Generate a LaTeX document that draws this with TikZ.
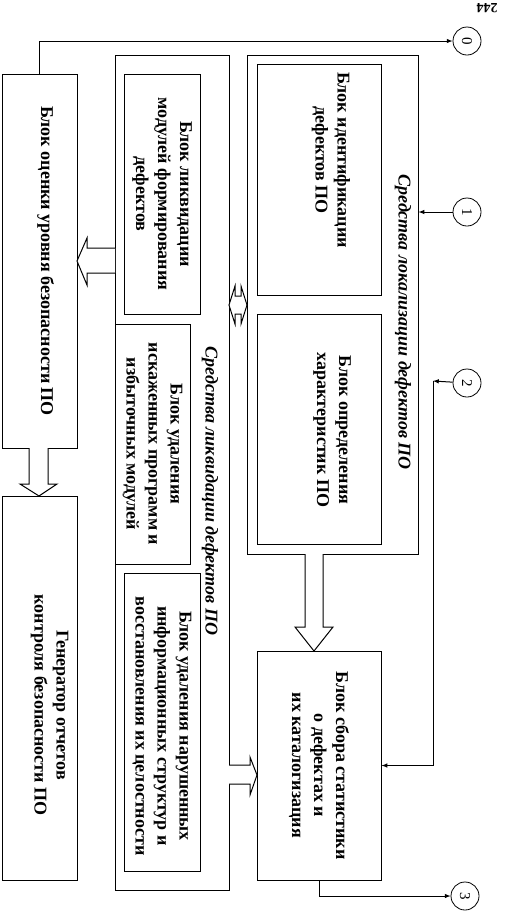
\documentclass[tikz,border=0pt]{standalone}
\usepackage{fontspec}
\setmainfont{Liberation Serif}
\usepackage{tikz}
\usetikzlibrary{calc}

\tikzset{
	box/.style={draw, line width=1pt, fill=white, inner sep=0pt},
	txt/.style={rotate=-90, align=center, font=\fontsize{18}{22}\selectfont\bfseries},
	ttl/.style={rotate=-90, align=center, font=\fontsize{18}{22}\selectfont\bfseries\itshape},
	circ/.style={draw, circle, line width=0.8pt, minimum size=28pt, inner sep=0pt, font=\fontsize{15}{15}\selectfont},
	blk/.style={draw, line width=1pt, fill=white, line join=miter}
}

\begin{document}
\begin{tikzpicture}[x=1pt, y=-1pt, line width=1pt, >=latex]
		\useasboundingbox (0,0) rectangle (529,911);
		
		\node[circ] (0) at (467, 41) {\rotatebox{-90}{0}};
		\node[circ] (1) at (467, 212) {\rotatebox{-90}{1}};
		\node[circ] (2) at (467, 383) {\rotatebox{-90}{2}};
		\node[circ] (3) at (465, 896) {\rotatebox{-90}{3}};
		
		\node[box, minimum width=75, minimum height=374] (4) at (39.5, 261) {};
		\node[box, minimum width=75, minimum height=384] (5) at (39.5, 688) {};
		\node[box, minimum width=114, minimum height=835] (6) at (172, 472.5) {};
		\node[box, minimum width=76, minimum height=240] (7) at (162, 194) {};
		\node[box, minimum width=75, minimum height=240] (8) at (152.5, 444) {};
		\node[box, minimum width=76, minimum height=298] (9) at (162, 722) {};
		\node[box, minimum width=171, minimum height=499] (10) at (332.5, 304.5) {};
		\node[box, minimum width=124, minimum height=231] (11) at (319, 179.5) {};
		\node[box, minimum width=124, minimum height=230] (12) at (319, 429) {};
		\node[box, minimum width=124, minimum height=229] (13) at (319, 765.5) {};
		
		\node[txt] (t4) at ($(4)+(6,0)$) {Блок оценки уровня безопасности ПО};
		\node[txt] (t5) at ($(5)+(10,17)$) {Генератор отчетов\\контроля безопасности ПО};
		\node[txt] (t7) at (7) {Блок ликвидации\\модулей формирования\\дефектов};
		\node[txt] (t8) at (8) {Блок удаления\\искаженных программ и\\избыточных модулей};
		\node[txt] (t9) at ($(9)+(0,4)$) {Блок удаления нарушенных\\информационных структур и\\восстановления их целостности};
		\node[txt] (t11) at (331, 160) {Блок идентификации\\дефектов ПО};
		\node[txt] (t12) at (332, 430) {Блок определения\\характеристик ПО};
		\node[txt] (t13) at (13) {Блок сбора статистики\\о дефектах и\\их каталогизация};
		\node[ttl] (t6) at (210, 491) {Средства ликвидации дефектов ПО};
		\node[ttl] (t10) at (403, 322) {Средства локализации дефектов ПО};
		\node[rotate=180, inner sep=0pt, font=\fontsize{14}{14}\selectfont\bfseries] (p) at (487, 8) {244};
		
		% block arrows
		\draw[blk] (305,554) -- (305,627) -- (295,627) -- (314,651) -- (333,627) -- (323,627) -- (323,554);
		\draw[blk] (229,765) -- (250,765) -- (250,757) -- (257,775) -- (250,795) -- (250,784) -- (229,784);
		\draw[blk] (115,248) -- (87,248) -- (87,238) -- (77,261) -- (87,285) -- (87,273) -- (115,273);
		\draw[blk] (29,448) -- (29,484) -- (20,484) -- (39,496) -- (57,484) -- (48,484) -- (48,448);
		\draw[blk] (229,305) -- (235,286) -- (235,296) -- (241,296) -- (241,286) -- (247,305) -- (241,324) -- (241,314) -- (235,314) -- (235,324) -- cycle;
		
		\coordinate (2a) at (433, 381);
		\draw[->] (4.north) |- (0);
		\draw[->] (1) -- (1 -| 10.east);
		\draw[->] (2) -- (2a);
		\draw[->] (2a) |- (13.east);
		\draw[->] (13.south) |- (3);
	\end{tikzpicture}
\end{document}
